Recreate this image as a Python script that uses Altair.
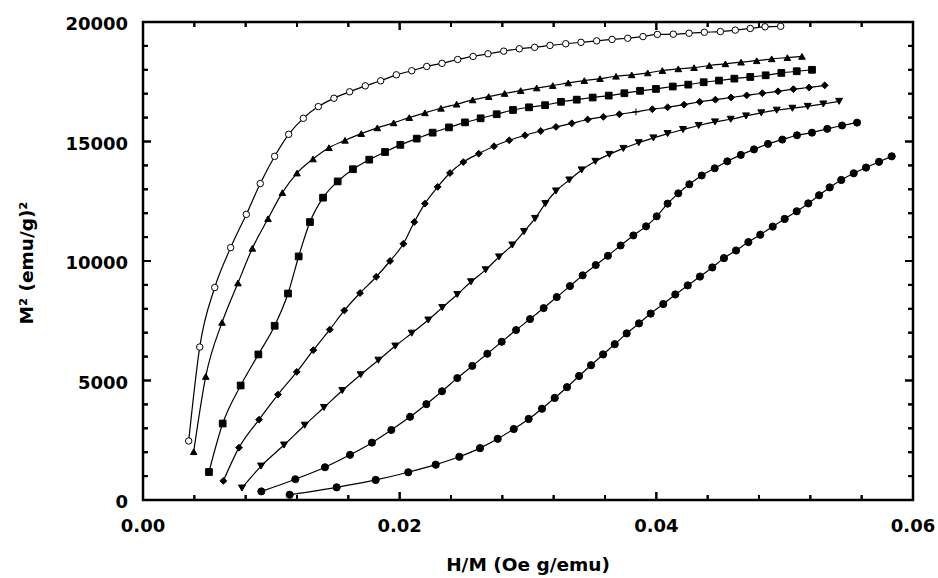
import altair as alt
import pandas as pd

series_names = ["s1", "s2", "s3", "s4", "s5", "s6", "s7"]
shapes = ["circle", "triangle-up", "square", "diamond", "triangle-down", "circle", "circle"]
fills = ["white", "black", "black", "black", "black", "black", "black"]
sizes = [42, 52, 36, 48, 52, 42, 42]

x1 = [0.00356, 0.00442, 0.00559, 0.00683, 0.00805, 0.00914, 0.01026, 0.01135, 0.01249, 0.01366,
      0.01488, 0.01610, 0.01732, 0.01852, 0.01974, 0.02094, 0.02211, 0.02330, 0.02452, 0.02572,
      0.02688, 0.02811, 0.02932, 0.03052, 0.03171, 0.03294, 0.03413, 0.03535, 0.03655, 0.03777,
      0.03896, 0.04008, 0.04132, 0.04255, 0.04374, 0.04499, 0.04615, 0.04732, 0.04847, 0.04969]
y1 = [2470, 6400, 8890, 10560, 11950, 13240, 14380, 15300, 15970, 16460,
      16810, 17080, 17330, 17540, 17790, 17960, 18140, 18270, 18430, 18560,
      18670, 18780, 18880, 18940, 19020, 19090, 19150, 19210, 19270, 19320,
      19390, 19480, 19490, 19530, 19570, 19600, 19660, 19730, 19800, 19820]

x2 = [0.00395, 0.00489, 0.00616, 0.00740, 0.00852, 0.00974, 0.01086, 0.01200, 0.01325, 0.01449,
      0.01574, 0.01701, 0.01826, 0.01953, 0.02075, 0.02197, 0.02322, 0.02444, 0.02569, 0.02694,
      0.02818, 0.02943, 0.03068, 0.03193, 0.03314, 0.03439, 0.03561, 0.03686, 0.03808, 0.03933,
      0.04047, 0.04171, 0.04294, 0.04413, 0.04538, 0.04660, 0.04782, 0.04899, 0.05021, 0.05135]
y2 = [2020, 5170, 7430, 9080, 10530, 11770, 12860, 13680, 14270, 14740,
      15050, 15330, 15570, 15780, 16000, 16200, 16390, 16560, 16740, 16880,
      17010, 17130, 17240, 17340, 17450, 17550, 17630, 17730, 17790, 17870,
      17970, 18040, 18090, 18180, 18250, 18320, 18380, 18460, 18510, 18560]

x3 = [0.00514, 0.00621, 0.00761, 0.00899, 0.01026, 0.01130, 0.01213, 0.01301, 0.01403, 0.01517,
      0.01636, 0.01763, 0.01886, 0.02005, 0.02133, 0.02257, 0.02384, 0.02509, 0.02631, 0.02756,
      0.02883, 0.03008, 0.03133, 0.03257, 0.03380, 0.03504, 0.03629, 0.03751, 0.03873, 0.03997,
      0.04128, 0.04249, 0.04369, 0.04488, 0.04608, 0.04732, 0.04852, 0.04974, 0.05094, 0.05213]
y3 = [1170, 3200, 4790, 6090, 7290, 8640, 10190, 11630, 12650, 13330,
      13840, 14240, 14560, 14860, 15120, 15370, 15590, 15800, 15970, 16140,
      16320, 16430, 16520, 16660, 16750, 16840, 16920, 17020, 17120, 17200,
      17300, 17380, 17480, 17550, 17630, 17700, 17770, 17870, 17940, 18000]

x4 = [0.00626, 0.00748, 0.00904, 0.01052, 0.01198, 0.01327, 0.01455, 0.01569, 0.01691, 0.01818,
      0.01925, 0.02029, 0.02114, 0.02197, 0.02296, 0.02392, 0.02496, 0.02616, 0.02735, 0.02854,
      0.02977, 0.03099, 0.03218, 0.03341, 0.03465, 0.03587, 0.03712, 0.03841, 0.03969, 0.04088,
      0.04216, 0.04338, 0.04460, 0.04582, 0.04704, 0.04826, 0.04948, 0.05068, 0.05190, 0.05312]
y4 = [800, 2190, 3360, 4410, 5360, 6270, 7130, 7930, 8660, 9340,
      10000, 10720, 11630, 12400, 13100, 13680, 14140, 14490, 14800, 15050,
      15260, 15440, 15610, 15760, 15920, 16030, 16140, 16240, 16350, 16430,
      16540, 16660, 16750, 16840, 16930, 17020, 17100, 17190, 17260, 17350]
# the point drawn as a thin "+" instead of a diamond in the reference
cross_series = "s4"
cross_index = 27

x5 = [0.00771, 0.00920, 0.01099, 0.01260, 0.01410, 0.01553, 0.01696, 0.01834, 0.01966, 0.02094,
      0.02223, 0.02332, 0.02449, 0.02556, 0.02670, 0.02774, 0.02878, 0.02969, 0.03055, 0.03135,
      0.03218, 0.03322, 0.03418, 0.03525, 0.03634, 0.03743, 0.03863, 0.03977, 0.04088, 0.04208,
      0.04330, 0.04457, 0.04580, 0.04699, 0.04818, 0.04938, 0.05060, 0.05180, 0.05301, 0.05424]
y5 = [500, 1420, 2300, 3130, 3870, 4580, 5240, 5850, 6440, 6980,
      7530, 8050, 8600, 9130, 9630, 10170, 10670, 11230, 11780, 12400,
      12930, 13390, 13810, 14170, 14460, 14710, 14950, 15150, 15330, 15500,
      15670, 15820, 15930, 16070, 16200, 16310, 16390, 16470, 16570, 16680]

x6 = [0.00922, 0.01187, 0.01418, 0.01613, 0.01784, 0.01935, 0.02081, 0.02208, 0.02330, 0.02449,
      0.02566, 0.02683, 0.02795, 0.02907, 0.03016, 0.03122, 0.03224, 0.03327, 0.03426, 0.03528,
      0.03623, 0.03722, 0.03821, 0.03920, 0.04003, 0.04088, 0.04171, 0.04257, 0.04354, 0.04455,
      0.04553, 0.04658, 0.04761, 0.04870, 0.04982, 0.05096, 0.05213, 0.05332, 0.05447, 0.05564]
y6 = [360, 870, 1370, 1890, 2400, 2930, 3480, 4010, 4550, 5100,
      5610, 6120, 6620, 7110, 7570, 8030, 8490, 8950, 9400, 9830,
      10220, 10650, 11070, 11450, 11870, 12400, 12830, 13210, 13580, 13880,
      14170, 14440, 14670, 14900, 15080, 15260, 15370, 15530, 15670, 15790]

x7 = [0.01143, 0.01509, 0.01813, 0.02067, 0.02281, 0.02465, 0.02626, 0.02764, 0.02889, 0.03005,
      0.03109, 0.03208, 0.03304, 0.03398, 0.03491, 0.03585, 0.03676, 0.03769, 0.03865, 0.03956,
      0.04054, 0.04148, 0.04245, 0.04340, 0.04436, 0.04527, 0.04621, 0.04717, 0.04810, 0.04907,
      0.05000, 0.05094, 0.05184, 0.05268, 0.05351, 0.05441, 0.05538, 0.05634, 0.05735, 0.05834]
y7 = [220, 530, 840, 1160, 1480, 1810, 2170, 2560, 2970, 3390,
      3820, 4270, 4720, 5190, 5640, 6090, 6520, 6970, 7390, 7800,
      8200, 8600, 8980, 9350, 9730, 10120, 10440, 10790, 11100, 11440,
      11760, 12080, 12410, 12750, 13080, 13390, 13670, 13910, 14150, 14380]

x_domain = [0.0, 0.06]
y_domain = [0, 20000]
x_major = [0.0, 0.02, 0.04, 0.06]
x_minor = [0.004, 0.008, 0.012, 0.016, 0.024, 0.028, 0.032, 0.036, 0.044, 0.048, 0.052, 0.056]
y_major = [0, 5000, 10000, 15000, 20000]
y_minor = [v for v in range(1000, 20000, 1000) if v % 5000 != 0]

XTITLE = "H/M (Oe g/emu)"
YTITLE = "M² (emu/g)²"

xs_all = [x1, x2, x3, x4, x5, x6, x7]
ys_all = [y1, y2, y3, y4, y5, y6, y7]

rows = []
for name, xs, ys in zip(series_names, xs_all, ys_all):
    for i, (a, b) in enumerate(zip(xs, ys)):
        mk = "cross" if (name == cross_series and i == cross_index) else "symbol"
        rows.append({"series": name, "x": a, "y": b, "order": i, "marker": mk})
df = pd.DataFrame(rows)

W, H = 770, 478
MAJ, MIN = 8, 5
FONT = "DejaVu Sans"
xscale = alt.Scale(domain=x_domain, nice=False, zero=False)
yscale = alt.Scale(domain=y_domain, nice=False, zero=False)

# tick segments expressed in data units (px length -> data length through the scale span)
XPX = (x_domain[1] - x_domain[0]) / W
YPX = (y_domain[1] - y_domain[0]) / H
trows = []
k = 0
for vals, ln in ((x_major, MAJ), (x_minor, MIN)):
    for v in vals:
        trows += [{"seg": k, "x": v, "y": y_domain[0], "o": 0},
                  {"seg": k, "x": v, "y": y_domain[0] + ln * YPX, "o": 1}]
        k += 1
        trows += [{"seg": k, "x": v, "y": y_domain[1], "o": 0},
                  {"seg": k, "x": v, "y": y_domain[1] - ln * YPX, "o": 1}]
        k += 1
for vals, ln in ((y_major, MAJ), (y_minor, MIN)):
    for v in vals:
        trows += [{"seg": k, "x": x_domain[0], "y": v, "o": 0},
                  {"seg": k, "x": x_domain[0] + ln * XPX, "y": v, "o": 1}]
        k += 1
        trows += [{"seg": k, "x": x_domain[1], "y": v, "o": 0},
                  {"seg": k, "x": x_domain[1] - ln * XPX, "y": v, "o": 1}]
        k += 1
tdf = pd.DataFrame(trows)

def X(field):
    return alt.X(field, scale=xscale, axis=None)

def Y(field):
    return alt.Y(field, scale=yscale, axis=None)

tick_lines = alt.Chart(tdf).mark_line(color="black", strokeWidth=2, strokeCap="butt").encode(
    x=X("x:Q"), y=Y("y:Q"), detail="seg:N", order="o:Q")

base = alt.Chart(df)

lines = base.mark_line(color="black", strokeWidth=1.2, interpolate="monotone").encode(
    x=X("x:Q"), y=Y("y:Q"),
    detail="series:N",
    order="order:Q",
)

points = base.transform_filter("datum.marker == 'symbol'").mark_point(
    filled=True, opacity=1, stroke="black", strokeWidth=1
).encode(
    x=X("x:Q"), y=Y("y:Q"),
    shape=alt.Shape("series:N", scale=alt.Scale(domain=series_names, range=shapes), legend=None),
    fill=alt.Fill("series:N", scale=alt.Scale(domain=series_names, range=fills), legend=None),
    size=alt.Size("series:N", scale=alt.Scale(domain=series_names, range=sizes), legend=None),
)

cross = base.transform_filter("datum.marker == 'cross'").mark_point(
    shape="M-1,0H1M0,-1V1", filled=False, stroke="black", strokeWidth=1, size=49, opacity=1
).encode(x=X("x:Q"), y=Y("y:Q"))

def xticks(values, length):
    d = alt.Chart(pd.DataFrame({"v": values}))
    bottom = d.mark_rule(color="black", strokeWidth=2).encode(
        x=X("v:Q"), y=alt.value(H), y2=alt.value(H - length))
    top = d.mark_rule(color="black", strokeWidth=2).encode(
        x=X("v:Q"), y=alt.value(0), y2=alt.value(length))
    return [bottom, top]

def yticks(values, length):
    d = alt.Chart(pd.DataFrame({"v": values}))
    left = d.mark_rule(color="black", strokeWidth=2).encode(
        y=Y("v:Q"), x=alt.value(0), x2=alt.value(length))
    right = d.mark_rule(color="black", strokeWidth=2).encode(
        y=Y("v:Q"), x=alt.value(W), x2=alt.value(W - length))
    return [left, right]

tick_layers = xticks(x_major, MAJ) + xticks(x_minor, MIN) + yticks(y_major, MAJ) + yticks(y_minor, MIN)

text_style = dict(font=FONT, fontWeight="bold", color="black")

x_labels = alt.Chart(pd.DataFrame({"v": x_major})).mark_text(
    align="center", baseline="alphabetic", fontSize=18, **text_style
).encode(x=X("v:Q"), y=alt.value(H + 32), text=alt.Text("v:Q", format=".2f"))

y_labels = alt.Chart(pd.DataFrame({"v": y_major})).mark_text(
    align="right", baseline="alphabetic", fontSize=18, dy=8, **text_style
).encode(y=Y("v:Q"), x=alt.value(-15), text=alt.Text("v:Q", format="d"))

x_title = alt.Chart(pd.DataFrame({"t": [XTITLE]})).mark_text(
    align="center", baseline="alphabetic", fontSize=18.5, **text_style
).encode(x=alt.value(W / 2), y=alt.value(H + 71), text="t:N")

y_title = alt.Chart(pd.DataFrame({"t": [YTITLE]})).mark_text(
    align="center", baseline="alphabetic", fontSize=18.5, angle=270, **text_style
).encode(x=alt.value(-110), y=alt.value(H / 2 + 2), text="t:N")

chart = alt.layer(tick_lines, *tick_layers, lines, points, cross,
                  x_labels, y_labels, x_title, y_title).properties(
    width=W, height=H,
    autosize=alt.AutoSizeParams(type="none"),
    padding={"left": 143, "top": 22, "right": 25, "bottom": 78},
    background="white",
).configure_view(stroke="black", strokeWidth=2.5)

chart.save("out.html", embed_options={"renderer": "svg", "actions": False})
